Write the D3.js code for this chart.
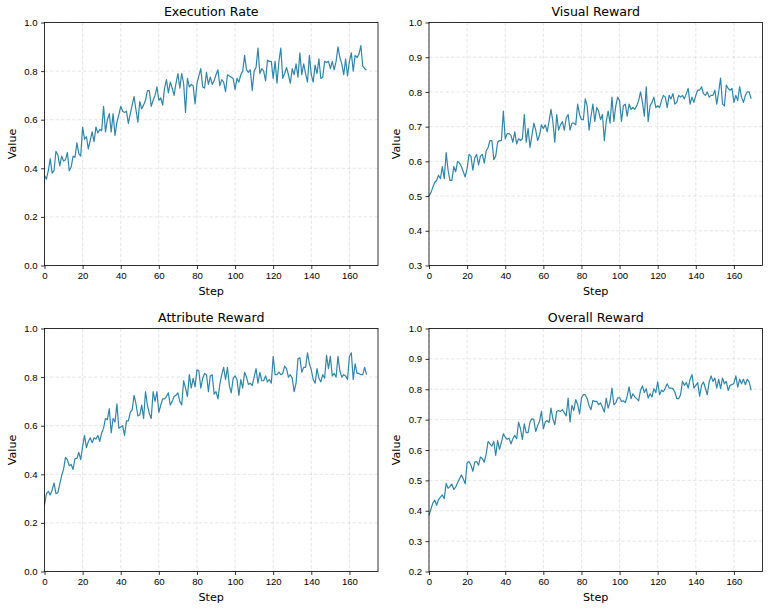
<!DOCTYPE html>
<html>
<head>
<meta charset="utf-8">
<script src="https://cdn.jsdelivr.net/npm/d3@7"></script>
<style>
  body { margin: 0; background: #fff; }
  svg { display: block; font-family: "DejaVu Sans", sans-serif; }
  .grid line { stroke: #b0b0b0; stroke-opacity: 0.4; stroke-dasharray: 3.5,2; stroke-width: 0.8; }
  .tick text { font-size: 9.6px; fill: #000; }
  .tick line { stroke: #000; stroke-width: 0.8; }
  .domain { display: none; }
</style>
</head>
<body>
<svg id="chart"></svg>
<script>
var executionRate = [
    0.37, 0.355, 0.39, 0.44, 0.38, 0.39, 0.47, 0.455, 0.41, 0.45,
    0.43, 0.435, 0.465, 0.39, 0.405, 0.45, 0.445, 0.505, 0.46, 0.45,
    0.57, 0.52, 0.53, 0.48, 0.515, 0.55, 0.51, 0.57, 0.545, 0.56,
    0.555, 0.655, 0.55, 0.6, 0.625, 0.55, 0.625, 0.535, 0.59, 0.62,
    0.655, 0.635, 0.63, 0.635, 0.585, 0.625, 0.66, 0.695, 0.64, 0.59,
    0.675, 0.645, 0.66, 0.68, 0.72, 0.72, 0.655, 0.68, 0.7, 0.735,
    0.68, 0.69, 0.66, 0.73, 0.765, 0.71, 0.755, 0.73, 0.7, 0.75,
    0.79, 0.73, 0.79, 0.75, 0.63, 0.77, 0.735, 0.745, 0.74, 0.665,
    0.75, 0.78, 0.81, 0.735, 0.73, 0.795, 0.745, 0.775, 0.745, 0.76,
    0.785, 0.805, 0.74, 0.765, 0.755, 0.715, 0.785, 0.78, 0.775, 0.77,
    0.725, 0.77, 0.755, 0.785, 0.8, 0.865, 0.805, 0.795, 0.805, 0.72,
    0.8, 0.815, 0.895, 0.79, 0.81, 0.8, 0.76, 0.845, 0.84, 0.84,
    0.77, 0.84, 0.75, 0.84, 0.895, 0.77, 0.79, 0.815, 0.785, 0.75,
    0.81, 0.785, 0.83, 0.775, 0.875, 0.785, 0.83, 0.79, 0.755, 0.865,
    0.785, 0.755, 0.825, 0.79, 0.85, 0.77, 0.775, 0.84, 0.835, 0.84,
    0.81, 0.84, 0.805, 0.84, 0.9, 0.855, 0.83, 0.785, 0.85, 0.78,
    0.84, 0.875, 0.8, 0.865, 0.855, 0.87, 0.905, 0.82, 0.81, 0.805
];

var visualReward = [
    0.5, 0.51, 0.525, 0.54, 0.545, 0.56, 0.55, 0.585, 0.55, 0.625,
    0.575, 0.545, 0.545, 0.585, 0.57, 0.6, 0.595, 0.585, 0.57, 0.555,
    0.58, 0.62, 0.615, 0.575, 0.61, 0.62, 0.59, 0.615, 0.62, 0.595,
    0.63, 0.64, 0.66, 0.66, 0.605, 0.615, 0.655, 0.66, 0.66, 0.745,
    0.665, 0.68, 0.68, 0.675, 0.655, 0.685, 0.65, 0.665, 0.66, 0.665,
    0.735, 0.655, 0.695, 0.64, 0.675, 0.71, 0.69, 0.66, 0.675, 0.705,
    0.695, 0.705, 0.685, 0.715, 0.75, 0.715, 0.655, 0.735, 0.69, 0.705,
    0.715, 0.69, 0.725, 0.735, 0.69, 0.71, 0.71, 0.705, 0.765, 0.735,
    0.72, 0.72, 0.78, 0.76, 0.69, 0.73, 0.765, 0.715, 0.755, 0.745,
    0.72, 0.735, 0.66, 0.715, 0.745, 0.71, 0.785, 0.715, 0.76, 0.785,
    0.775, 0.715, 0.76, 0.765, 0.73, 0.765, 0.75, 0.755, 0.75, 0.76,
    0.775, 0.8, 0.77, 0.73, 0.815, 0.715, 0.76, 0.77, 0.785, 0.755,
    0.76, 0.755, 0.775, 0.79, 0.785, 0.755, 0.79, 0.78, 0.795, 0.765,
    0.77, 0.79, 0.785, 0.79, 0.78, 0.795, 0.81, 0.765, 0.785, 0.77,
    0.79, 0.805, 0.805, 0.815, 0.795, 0.79, 0.8, 0.785, 0.79, 0.79,
    0.805, 0.765, 0.8, 0.84, 0.765, 0.76, 0.82, 0.81, 0.805, 0.81,
    0.77, 0.79, 0.775, 0.815, 0.785, 0.77, 0.79, 0.8, 0.8, 0.78
];

var attributeReward = [
    0.275, 0.32, 0.33, 0.315, 0.335, 0.365, 0.32, 0.325, 0.36, 0.395,
    0.42, 0.47, 0.46, 0.435, 0.44, 0.42, 0.465, 0.465, 0.49, 0.46,
    0.515, 0.56, 0.51, 0.535, 0.55, 0.53, 0.55, 0.545, 0.56, 0.535,
    0.57, 0.59, 0.63, 0.625, 0.67, 0.57, 0.63, 0.615, 0.69, 0.59,
    0.595, 0.6, 0.56, 0.62, 0.62, 0.655, 0.665, 0.725, 0.69, 0.64,
    0.645, 0.685, 0.63, 0.74, 0.685, 0.65, 0.63, 0.74, 0.7, 0.74,
    0.655, 0.685, 0.71, 0.71, 0.72, 0.735, 0.685, 0.7, 0.72, 0.725,
    0.735, 0.7, 0.685, 0.785, 0.755, 0.72, 0.81, 0.755, 0.795, 0.76,
    0.83, 0.825, 0.755, 0.795, 0.815, 0.81, 0.74, 0.805, 0.81, 0.73,
    0.74, 0.71, 0.77, 0.81, 0.84, 0.79, 0.84, 0.765, 0.735, 0.795,
    0.805, 0.79, 0.725, 0.79, 0.755, 0.82, 0.8, 0.77, 0.775, 0.765,
    0.8, 0.835, 0.775, 0.82, 0.785, 0.785, 0.805, 0.78, 0.79, 0.775,
    0.885, 0.81, 0.81, 0.82, 0.81, 0.815, 0.845, 0.835, 0.8, 0.81,
    0.795, 0.74, 0.775, 0.875, 0.88, 0.82, 0.84, 0.84, 0.9, 0.855,
    0.83, 0.79, 0.775, 0.835, 0.795, 0.78, 0.81, 0.795, 0.89, 0.835,
    0.885, 0.805, 0.815, 0.8, 0.885, 0.825, 0.8, 0.81, 0.805, 0.79,
    0.885, 0.9, 0.79, 0.855, 0.815, 0.815, 0.81, 0.81, 0.84, 0.81
];

var overallReward = [
    0.385, 0.405, 0.425, 0.435, 0.418, 0.437, 0.445, 0.452, 0.44, 0.49,
    0.474, 0.48, 0.488, 0.47, 0.478, 0.492, 0.505, 0.518, 0.505, 0.489,
    0.558, 0.562, 0.55, 0.53, 0.56, 0.562, 0.55, 0.577, 0.572, 0.56,
    0.587, 0.628, 0.62, 0.613, 0.628, 0.582, 0.631, 0.602, 0.626, 0.653,
    0.642, 0.635, 0.639, 0.62, 0.637, 0.648, 0.637, 0.692, 0.67, 0.635,
    0.686, 0.657, 0.657, 0.692, 0.703, 0.7, 0.661, 0.681, 0.694, 0.727,
    0.67, 0.692, 0.697, 0.69, 0.738, 0.703, 0.683, 0.727, 0.73, 0.727,
    0.733, 0.722, 0.712, 0.771, 0.692, 0.747, 0.73, 0.766, 0.749, 0.719,
    0.771, 0.782, 0.782, 0.769, 0.745, 0.733, 0.763, 0.76, 0.76, 0.749,
    0.755, 0.741, 0.725, 0.771, 0.738, 0.758, 0.804, 0.749, 0.755, 0.771,
    0.773, 0.76, 0.762, 0.756, 0.777, 0.808, 0.769, 0.785, 0.775, 0.769,
    0.762, 0.797, 0.811, 0.789, 0.802, 0.771, 0.785, 0.775, 0.802, 0.789,
    0.824, 0.782, 0.797, 0.792, 0.804, 0.818, 0.804, 0.804, 0.802, 0.791,
    0.769, 0.769, 0.782, 0.826, 0.813, 0.822, 0.804, 0.833, 0.848, 0.804,
    0.813, 0.822, 0.777, 0.813, 0.824, 0.804, 0.782, 0.824, 0.844, 0.826,
    0.837, 0.804, 0.833, 0.802, 0.837, 0.818, 0.826, 0.796, 0.813, 0.815,
    0.82, 0.844, 0.807, 0.833, 0.818, 0.833, 0.815, 0.833, 0.824, 0.796
];

var titles = ["Execution Rate", "Visual Reward", "Attribute Reward", "Overall Reward"];
var series = [executionRate, visualReward, attributeReward, overallReward];
var yMins = [0.0, 0.3, 0.0, 0.2];
var yStepSizes = [0.2, 0.1, 0.2, 0.1];
var xTicks = [0, 20, 40, 60, 80, 100, 120, 140, 160];
var xMax = 175;

var width = 769,
    height = 611,
    lineColor = "#2E86AB",
    cols = [[44.5, 378], [429, 762.5]],
    rows = [[22.5, 265.5], [328.5, 571.5]];

var svg = d3.select("#chart").attr("width", width).attr("height", height);
svg.append("rect").attr("width", width).attr("height", height).attr("fill", "#fff");

series.forEach(function(values, i) {
    var col = cols[i % 2],
        row = rows[Math.floor(i / 2)],
        left = col[0], right = col[1], top = row[0], bottom = row[1];

    var x = d3.scaleLinear().domain([0, xMax]).range([left, right]),
        y = d3.scaleLinear().domain([yMins[i], 1.0]).range([bottom, top]);

    var yTicks = d3.range(yMins[i], 1.0 + 1e-9, yStepSizes[i]).map(function(v) {
        return Math.round(v * 10) / 10;
    });

    var g = svg.append("g");

    // dashed grid
    var grid = g.append("g").attr("class", "grid");
    grid.selectAll(".gx").data(xTicks).enter().append("line")
        .attr("x1", function(d) { return x(d); })
        .attr("x2", function(d) { return x(d); })
        .attr("y1", top).attr("y2", bottom);
    grid.selectAll(".gy").data(yTicks).enter().append("line")
        .attr("x1", left).attr("x2", right)
        .attr("y1", function(d) { return y(d); })
        .attr("y2", function(d) { return y(d); });

    var line = d3.line()
        .x(function(d, k) { return x(k); })
        .y(function(d) { return y(d); });

    g.append("path")
        .datum(values)
        .attr("fill", "none")
        .attr("stroke", lineColor)
        .attr("stroke-width", 1.2)
        .attr("stroke-linejoin", "round")
        .attr("d", line);

    g.append("g")
        .attr("transform", "translate(0," + bottom + ")")
        .call(d3.axisBottom(x).tickValues(xTicks).tickSize(3.5).tickPadding(3.5)
            .tickFormat(d3.format("d")));

    g.append("g")
        .attr("transform", "translate(" + left + ",0)")
        .call(d3.axisLeft(y).tickValues(yTicks).tickSize(3.5).tickPadding(3.5)
            .tickFormat(d3.format(".1f")));

    g.append("rect")
        .attr("x", left).attr("y", top)
        .attr("width", right - left).attr("height", bottom - top)
        .attr("fill", "none")
        .attr("stroke", "#000")
        .attr("stroke-width", 0.8);

    g.append("text")
        .attr("x", (left + right) / 2)
        .attr("y", top - 6.5)
        .attr("text-anchor", "middle")
        .style("font-size", "12.6px")
        .text(titles[i]);

    g.append("text")
        .attr("x", (left + right) / 2)
        .attr("y", bottom + 29)
        .attr("text-anchor", "middle")
        .style("font-size", "11.2px")
        .text("Step");

    g.append("text")
        .attr("transform", "translate(" + (left - 29) + "," + ((top + bottom) / 2) + ") rotate(-90)")
        .attr("text-anchor", "middle")
        .style("font-size", "11.2px")
        .text("Value");
});
</script>
</body>
</html>
